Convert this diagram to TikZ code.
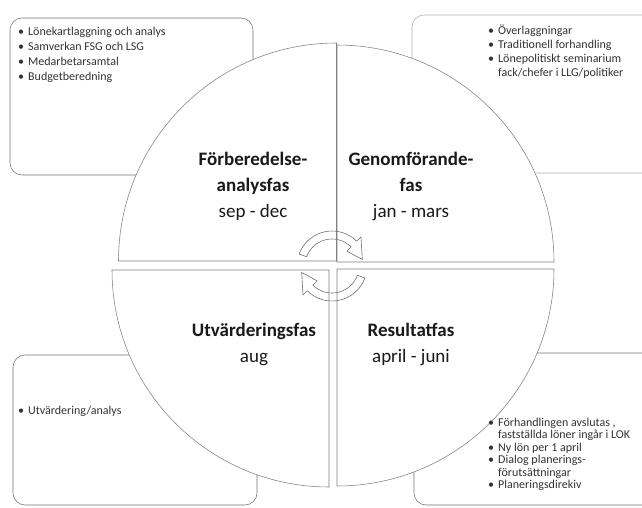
\documentclass[tikz,border=0pt]{standalone}
\usepackage{fontspec}
\setmainfont{Carlito}
\begin{document}
\begin{tikzpicture}[x=1pt,y=1pt,
  boxline/.style={draw=black!55, line width=0.55pt, rounded corners=12pt},
  boxlight/.style={draw=black!30, line width=0.55pt, rounded corners=12pt},
  sector/.style={draw=black!50, fill=white, line width=0.55pt},
  cyc/.style={draw=black!55, line width=0.6pt, line join=round},
  phase/.style={align=center, inner sep=0pt, font=\fontsize{19}{26}\selectfont, text=black!90},
  list/.style={anchor=base west, inner sep=0pt, font=\fontsize{12}{15}\selectfont, text=black!80}]
\clip (0,0) rectangle (642,507);
\fill[white] (0,0) rectangle (642,507);
% boxes
\draw[boxline] (10,332) rectangle (253,489);
\draw[boxlight] (412,334) rectangle (665,492);
\draw[boxline] (13,2) rectangle (257,152);
\draw[boxline] (414,2) rectangle (665,154);
% sectors
\draw[sector] (336.5,246) -- ++(-218,0) arc[start angle=180,end angle=90,radius=218] -- cycle;
\draw[sector] (337,245) -- ++(0,217) arc[start angle=90,end angle=0,radius=217] -- cycle;
\draw[sector] (329,237) -- ++(0,-217) arc[start angle=270,end angle=180,radius=217] -- cycle;
\draw[sector] (337,238) -- ++(217,0) arc[start angle=0,end angle=-90,radius=217] -- cycle;
% cycle arrows
\begin{scope}[shift={(332,241)}]
\draw[cyc] (160:35) arc[start angle=160,end angle=45,radius=35] -- (45:41) -- (12:31) -- (45:21) -- (45:27) arc[start angle=45,end angle=160,radius=27] -- cycle;
\draw[cyc] (340:35) arc[start angle=340,end angle=225,radius=35] -- (225:41) -- (192:31) -- (225:21) -- (225:27) arc[start angle=225,end angle=340,radius=27] -- cycle;
\end{scope}
% phase texts
\node[phase] (p1) at (253,321) {\textbf{Förberedelse-}\\\textbf{analysfas}\\sep - dec};
\node[phase] (p2) at (411,321) {\textbf{Genomförande-}\\\textbf{fas}\\jan - mars};
\node[phase] (p3) at (254,163) {\textbf{Utvärderingsfas}\\aug};
\node[phase] (p4) at (411,163) {\textbf{Resultatfas}\\april - juni};
% lists
\node[list] (l1) at (18,471) {\begin{tabular}[t]{@{}l@{\hspace{4pt}}l@{}}•&Lönekartlaggning och analys\\•&Samverkan FSG och LSG\\•&Medarbetarsamtal\\•&Budgetberedning\end{tabular}};
\node[list, font=\fontsize{12}{14}\selectfont] (l2) at (488,472) {\begin{tabular}[t]{@{}l@{\hspace{4pt}}l@{}}•&Överlaggningar\\•&Traditionell forhandling\\•&Lönepolitiskt seminarium\\&fack/chefer i LLG/politiker\end{tabular}};
\node[list] (l3) at (18,93) {\begin{tabular}[t]{@{}l@{\hspace{4pt}}l@{}}•&Utvärdering/analys\end{tabular}};
\node[list, font=\fontsize{12}{12.5}\selectfont] (l4) at (488,81) {\begin{tabular}[t]{@{}l@{\hspace{4pt}}l@{}}•&Förhandlingen avslutas ,\\&fastställda löner ingår i LOK\\•&Ny lön per 1 april\\•&Dialog planerings-\\&förutsättningar\\•&Planeringsdirekiv\end{tabular}};
\end{tikzpicture}
\end{document}
